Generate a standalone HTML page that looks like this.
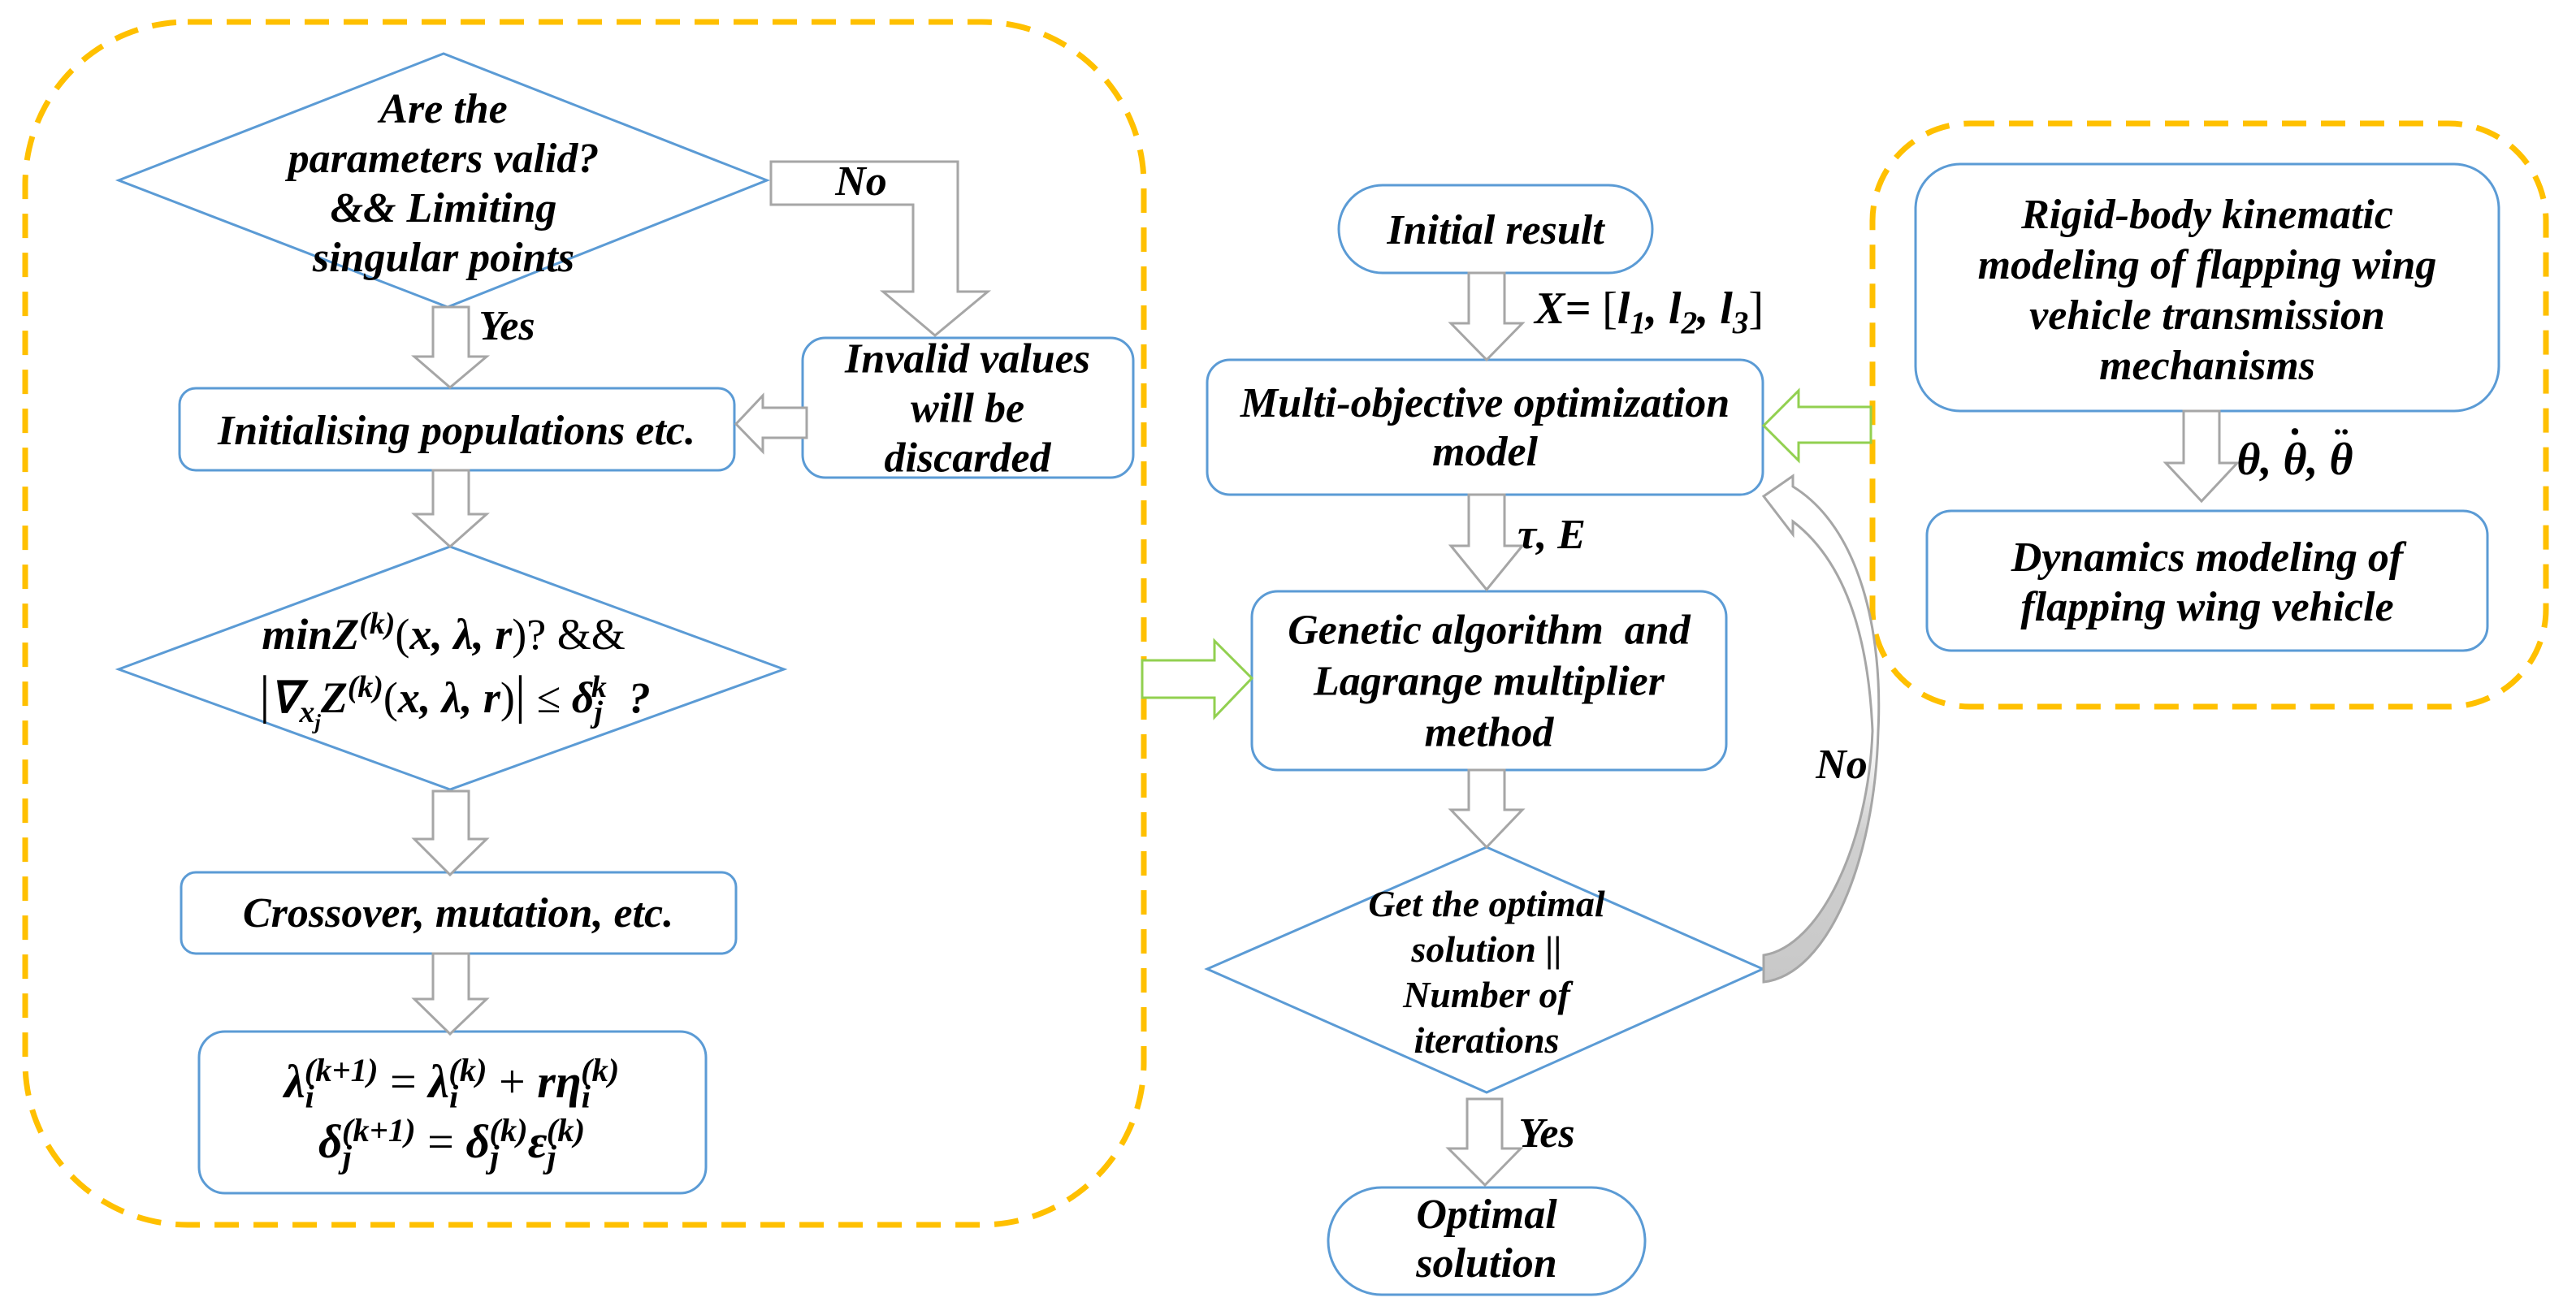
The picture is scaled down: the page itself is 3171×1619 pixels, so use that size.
<!DOCTYPE html>
<html><head><meta charset="utf-8">
<style>
html,body{margin:0;padding:0;background:#fff;}
#c{position:relative;width:3171px;height:1619px;overflow:hidden;background:#fff;}
svg{position:absolute;left:0;top:0;}
.t{position:absolute;transform:translate(-50%,-50%);font-family:"Liberation Serif",serif;font-weight:bold;font-style:italic;font-size:52px;color:#000;white-space:nowrap;text-align:center;line-height:1;}
.m{font-family:"Liberation Serif",serif;}
sub,sup{font-size:0.7em;line-height:0;}
.up{font-style:normal;font-weight:normal;}
.d{position:relative;display:inline-block;}
.d i{position:absolute;left:0;right:0;top:-0.32em;text-align:center;font-style:normal;}
</style></head><body><div id="c">
<svg width="3171" height="1619" viewBox="0 0 3171 1619">
<defs>
<linearGradient id="g" x1="0" y1="600" x2="0" y2="1210" gradientUnits="userSpaceOnUse">
<stop offset="0" stop-color="#fff"/><stop offset="0.5" stop-color="#fff"/><stop offset="0.7" stop-color="#d0d0d0"/><stop offset="1" stop-color="#c8c8c8"/>
</linearGradient>
</defs>
<g fill="none" stroke="#FFC000" stroke-width="7" stroke-dasharray="30 18">
<rect x="31" y="27" width="1377" height="1481" rx="200"/>
<rect x="2305" y="152" width="829" height="718" rx="120"/>
</g>
<g fill="#fff" stroke="#5B9BD5" stroke-width="3">
<polygon points="146,222 546,66 944,222 551,378"/>
<rect x="221" y="478" width="683" height="101" rx="20"/>
<rect x="988" y="416" width="407" height="172" rx="28"/>
<polygon points="146,824 554,673 965,824 554,972"/>
<rect x="223" y="1074" width="683" height="100" rx="18"/>
<rect x="245" y="1270" width="624" height="199" rx="32"/>
<rect x="1648" y="228" width="386" height="108" rx="54"/>
<rect x="1486" y="443" width="684" height="166" rx="28"/>
<rect x="1541" y="728" width="584" height="220" rx="32"/>
<polygon points="1486,1193 1830,1043 2170,1193 1830,1345"/>
<rect x="1635" y="1462" width="390" height="132" rx="66"/>
<rect x="2358" y="202" width="718" height="304" rx="55"/>
<rect x="2372" y="629" width="690" height="172" rx="30"/>
</g>
<g fill="#fff" stroke="#A6A6A6" stroke-width="3" stroke-linejoin="miter">
<polygon points="949,199 1179,199 1179,359 1216,359 1151,413 1087,359 1124,359 1124,252 949,252"/>
<polygon points="533,378 577,378 577,439 599,439 554,477 510,439 533,439"/>
<polygon points="993,502 993,539 939,539 939,556 906,522 939,487 939,502"/>
<polygon points="533,579 577,579 577,633 599,633 554,673 510,633 533,633"/>
<polygon points="533,974 577,974 577,1033 599,1033 554,1077 510,1033 533,1033"/>
<polygon points="533,1174 577,1174 577,1230 599,1230 554,1273 510,1230 533,1230"/>
<polygon points="1808,336 1852,336 1852,398 1874,398 1830,443 1786,398 1808,398"/>
<polygon points="1808,609 1852,609 1852,672 1874,672 1830,726 1786,672 1808,672"/>
<polygon points="1808,948 1852,948 1852,997 1874,997 1830,1043 1786,997 1808,997"/>
<polygon points="1806,1353 1849,1353 1849,1414 1872,1414 1828,1459 1783,1414 1806,1414"/>
<polygon points="2688,506 2732,506 2732,570 2754,570 2710,617 2666,570 2688,570"/>
<path d="M2207,599 C2290,650 2318,780 2312,900 C2308,1060 2250,1200 2171,1209 L2171,1176 C2240,1165 2300,1040 2305,900 C2300,780 2270,690 2207,642 L2207,658 L2171,611 L2207,586 Z" fill="url(#g)"/>
</g>
<g fill="#fff" stroke="#92D050" stroke-width="3">
<polygon points="1406,813 1495,813 1495,789 1541,835 1495,883 1495,859 1406,859"/>
<polygon points="2303,501 2303,545 2214,545 2214,567 2171,524 2214,481 2214,501"/>
</g>
</svg>

<div class="t" style="left:546px;top:226px;line-height:61px;">Are the<br>parameters valid?<br>&amp;&amp; Limiting<br>singular points</div>
<div class="t" style="left:1060px;top:224px;">No</div>
<div class="t" style="left:624px;top:402px;">Yes</div>
<div class="t" style="left:562px;top:531px;">Initialising populations etc.</div>
<div class="t" style="left:1191px;top:503px;line-height:61px;">Invalid values<br>will be<br>discarded</div>
<div class="t m" style="left:546px;top:781px;font-size:54px;">minZ<sup>(k)</sup><span class="up">(</span>x, λ, r<span class="up">)? &amp;&amp;</span></div>
<div class="t m" style="left:560px;top:856px;font-size:54px;"><span class="up" style="font-size:66px">|</span>∇<sub>x<sub>j</sub></sub>Z<sup>(k)</sup><span class="up">(</span>x, λ, r<span class="up">)</span><span class="up" style="font-size:66px">|</span> <span class="up">≤</span> δ<sub>j</sub><sup style="margin-left:-14px">k</sup> &nbsp;?</div>
<div class="t" style="left:564px;top:1125px;">Crossover, mutation, etc.</div>
<div class="t m" style="left:556px;top:1332px;font-size:58px;">λ<sub>i</sub><sup style="margin-left:-12px">(k+1)</sup> <span class="up">=</span> λ<sub>i</sub><sup style="margin-left:-12px">(k)</sup> <span class="up">+</span> rη<sub>i</sub><sup style="margin-left:-12px">(k)</sup></div>
<div class="t m" style="left:556px;top:1406px;font-size:58px;">δ<sub>j</sub><sup style="margin-left:-12px">(k+1)</sup> <span class="up">=</span> δ<sub>j</sub><sup style="margin-left:-12px">(k)</sup>ε<sub>j</sub><sup style="margin-left:-12px">(k)</sup></div>

<div class="t" style="left:1841px;top:284px;">Initial result</div>
<div class="t" style="left:2030px;top:380px;font-size:56px;">X= <span class="up">[</span><i>l</i><sub>1</sub>, <i>l</i><sub>2</sub>, <i>l</i><sub>3</sub><span class="up">]</span></div>
<div class="t" style="left:1828px;top:527px;line-height:60px;">Multi-objective optimization<br>model</div>
<div class="t" style="left:1910px;top:659px;">τ, E</div>
<div class="t" style="left:1833px;top:839px;line-height:63px;">Genetic algorithm &nbsp;and<br>Lagrange multiplier<br>method</div>
<div class="t" style="left:1830px;top:1197px;font-size:46px;line-height:56px;">Get the optimal<br>solution ||<br>Number of<br>iterations</div>
<div class="t" style="left:1904px;top:1396px;">Yes</div>
<div class="t" style="left:1830px;top:1526px;line-height:60px;">Optimal<br>solution</div>
<div class="t" style="left:2267px;top:942px;">No</div>
<div class="t" style="left:2717px;top:358px;line-height:62px;">Rigid-body kinematic<br>modeling of flapping wing<br>vehicle transmission<br>mechanisms</div>
<div class="t" style="left:2825px;top:566px;font-size:56px;">θ, <span class="d">θ<i>˙</i></span>, <span class="d">θ<i>¨</i></span></div>
<div class="t" style="left:2717px;top:717px;line-height:61px;">Dynamics modeling of<br>flapping wing vehicle</div>
</div></body></html>
